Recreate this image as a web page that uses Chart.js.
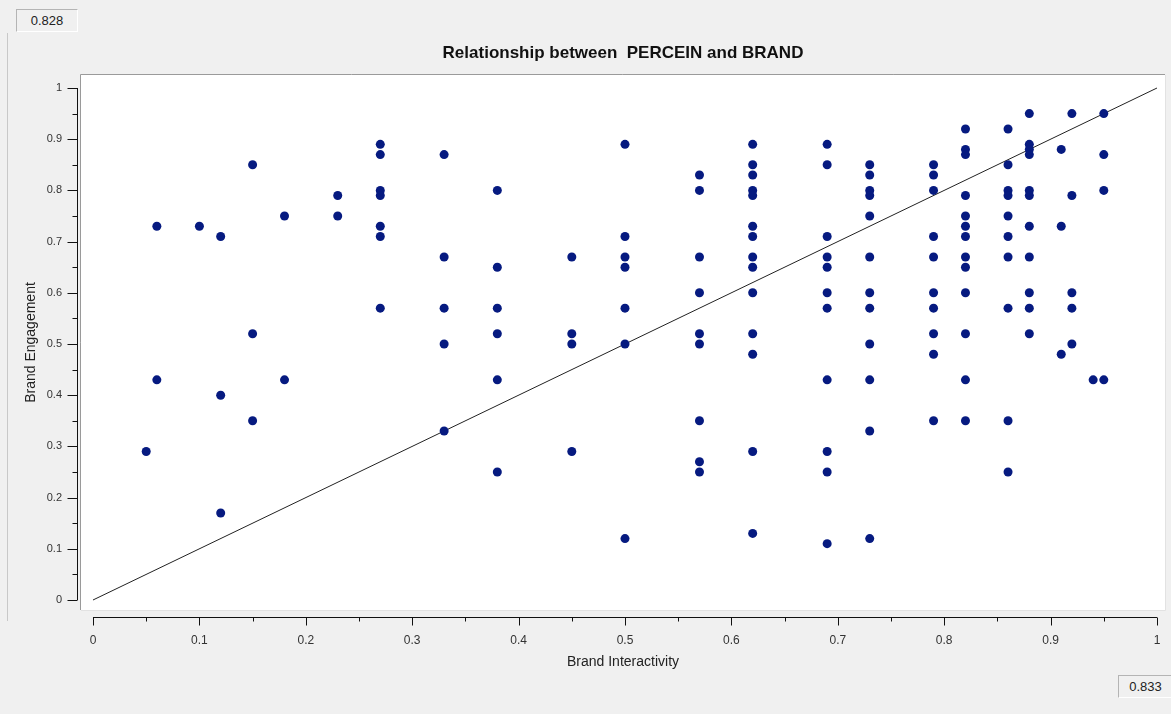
<!DOCTYPE html>
<html lang="en">
<head>
    <meta charset="UTF-8">
    <title>Relationship between PERCEIN and BRAND</title>
    <script src="https://cdn.jsdelivr.net/npm/chart.js"></script>
    <style>
        body { margin: 0; background: #f0f0f0; overflow: hidden; font-family: 'Liberation Sans', Arial, sans-serif; }
        .panel { position: relative; width: 1171px; height: 714px; }
        #scatterChart { position: absolute; left: 0; top: 0; display: block; }
        .side-line { position: absolute; left: 7px; top: 33px; width: 1px; height: 588px; background: #c8c8c8; }
        .val-box { position: absolute; background: #f0f0f0; border: 1px solid #b4b4b4; border-right-color: #fff; border-bottom-color: #fff;
                   font-size: 13px; color: #222; text-align: center; line-height: 21px; }
    </style>
</head>
<body>
<div class="panel">
    <canvas id="scatterChart" width="1171" height="714"></canvas>
    <div class="side-line"></div>
    <div class="val-box" style="left:16px; top:9px; width:60px; height:21px;">0.828</div>
    <div class="val-box" style="left:1118px; top:675px; width:53px; height:21px;">0.833</div>
</div>

<script>
    // x positions (Brand Interactivity) of each column of points
    const interactivityCols = [0.05, 0.06, 0.10, 0.12, 0.15, 0.18, 0.23, 0.27, 0.33, 0.38, 0.45, 0.50,
                               0.57, 0.62, 0.69, 0.73, 0.79, 0.82, 0.86, 0.88, 0.91, 0.92, 0.94, 0.95];
    // Brand Engagement values for each column above
    const engagementByCol = [
        [0.29],
        [0.73, 0.43],
        [0.73],
        [0.71, 0.40, 0.17],
        [0.85, 0.52, 0.35],
        [0.75, 0.43],
        [0.79, 0.75],
        [0.89, 0.87, 0.80, 0.79, 0.73, 0.71, 0.57],
        [0.87, 0.67, 0.57, 0.50, 0.33],
        [0.80, 0.65, 0.57, 0.52, 0.43, 0.25],
        [0.67, 0.52, 0.50, 0.29],
        [0.89, 0.71, 0.67, 0.65, 0.57, 0.50, 0.12],
        [0.83, 0.80, 0.67, 0.60, 0.52, 0.50, 0.35, 0.27, 0.25],
        [0.89, 0.85, 0.83, 0.80, 0.79, 0.73, 0.71, 0.67, 0.65, 0.60, 0.52, 0.48, 0.29, 0.13],
        [0.89, 0.85, 0.71, 0.67, 0.65, 0.60, 0.57, 0.43, 0.29, 0.25, 0.11],
        [0.85, 0.83, 0.80, 0.79, 0.75, 0.67, 0.60, 0.57, 0.50, 0.43, 0.33, 0.12],
        [0.85, 0.83, 0.80, 0.71, 0.67, 0.60, 0.57, 0.52, 0.48, 0.35],
        [0.92, 0.88, 0.87, 0.79, 0.75, 0.73, 0.71, 0.67, 0.65, 0.60, 0.52, 0.43, 0.35],
        [0.92, 0.85, 0.80, 0.79, 0.75, 0.71, 0.67, 0.57, 0.35, 0.25],
        [0.95, 0.89, 0.88, 0.87, 0.80, 0.79, 0.73, 0.67, 0.60, 0.57, 0.52],
        [0.88, 0.73, 0.48],
        [0.95, 0.79, 0.60, 0.57, 0.50],
        [0.43],
        [0.95, 0.87, 0.80, 0.43]
    ];
    // reference line y = x
    const refLineX = [0, 1];
    const refLineY = [0, 1];

    const tickValues = [0, 0.1, 0.2, 0.3, 0.4, 0.5, 0.6, 0.7, 0.8, 0.9, 1];
    const tickLabels = ['0', '0.1', '0.2', '0.3', '0.4', '0.5', '0.6', '0.7', '0.8', '0.9', '1'];

    const FONT = "'Liberation Sans', Arial, sans-serif";

    document.addEventListener('DOMContentLoaded', function() {
        const points = [];
        interactivityCols.forEach((x, i) => {
            engagementByCol[i].forEach(y => points.push({ x: x, y: y }));
        });
        const refLine = refLineX.map((x, i) => ({ x: x, y: refLineY[i] }));

        // white plot area + framed look
        const plotBackground = {
            id: 'plotBackground',
            beforeDatasetsDraw(chart) {
                const { ctx, chartArea: a } = chart;
                ctx.save();
                ctx.fillStyle = '#ffffff';
                ctx.fillRect(a.left, a.top, a.right - a.left, a.bottom - a.top);
                ctx.lineWidth = 1;
                ctx.strokeStyle = '#9a9a9a';
                ctx.beginPath();
                ctx.moveTo(a.left - 0.5, a.bottom);
                ctx.lineTo(a.left - 0.5, a.top - 0.5);
                ctx.lineTo(a.right, a.top - 0.5);
                ctx.stroke();
                ctx.strokeStyle = '#e2e2e2';
                ctx.beginPath();
                ctx.moveTo(a.right + 0.5, a.top);
                ctx.lineTo(a.right + 0.5, a.bottom + 0.5);
                ctx.lineTo(a.left, a.bottom + 0.5);
                ctx.stroke();
                ctx.restore();
            }
        };

        // detached axis lines with major / minor tick marks
        const detachedAxes = {
            id: 'detachedAxes',
            afterDraw(chart) {
                const { ctx, chartArea: a, scales } = chart;
                const xs = scales.x, ys = scales.y;
                const minor = tickValues.slice(1).map((v, i) => (v + tickValues[i]) / 2);
                const axisY = Math.round(a.bottom + 7) + 0.5;
                const axisX = Math.round(a.left - 4) + 0.5;
                ctx.save();
                ctx.strokeStyle = '#111';
                ctx.lineWidth = 1;
                ctx.beginPath();
                ctx.moveTo(xs.getPixelForValue(0), axisY);
                ctx.lineTo(xs.getPixelForValue(1), axisY);
                tickValues.forEach(v => {
                    const px = Math.round(xs.getPixelForValue(v)) + 0.5;
                    ctx.moveTo(px, axisY); ctx.lineTo(px, axisY + 8);
                });
                minor.forEach(v => {
                    const px = Math.round(xs.getPixelForValue(v)) + 0.5;
                    ctx.moveTo(px, axisY); ctx.lineTo(px, axisY + 4);
                });
                ctx.moveTo(axisX, ys.getPixelForValue(0));
                ctx.lineTo(axisX, ys.getPixelForValue(1));
                tickValues.forEach(v => {
                    const py = Math.round(ys.getPixelForValue(v)) + 0.5;
                    ctx.moveTo(axisX, py); ctx.lineTo(axisX - 10, py);
                });
                minor.forEach(v => {
                    const py = Math.round(ys.getPixelForValue(v)) + 0.5;
                    ctx.moveTo(axisX, py); ctx.lineTo(axisX - 5, py);
                });
                ctx.stroke();
                ctx.restore();
            }
        };

        const fixedTicks = scale => { scale.ticks = tickValues.map(v => ({ value: v })); };

        new Chart(document.getElementById('scatterChart'), {
            type: 'scatter',
            data: {
                datasets: [
                    {
                        data: points,
                        backgroundColor: '#061a80',
                        borderColor: '#061a80',
                        pointRadius: 4.5,
                        pointHoverRadius: 4.5,
                        borderWidth: 0
                    },
                    {
                        type: 'line',
                        data: refLine,
                        showLine: true,
                        borderColor: '#222',
                        borderWidth: 1,
                        pointRadius: 0,
                        fill: false
                    }
                ]
            },
            options: {
                responsive: false,
                animation: false,
                layout: { padding: { left: 11, right: 6, top: 0, bottom: 0 } },
                scales: {
                    x: {
                        type: 'linear',
                        min: -0.011278,
                        max: 1.007519,
                        afterBuildTicks: fixedTicks,
                        afterFit: scale => {
                            scale.height = 104;
                            scale.paddingLeft = 0;
                            scale.paddingRight = 0;
                        },
                        grid: { display: false, drawTicks: false },
                        border: { display: false },
                        ticks: {
                            padding: 23,
                            color: '#333',
                            font: { family: FONT, size: 12 },
                            maxRotation: 0,
                            autoSkip: false,
                            callback: (v, i) => tickLabels[i]
                        },
                        title: {
                            display: true,
                            text: 'Brand Interactivity',
                            color: '#222',
                            font: { family: FONT, size: 14 },
                            padding: { top: 0, bottom: 43.6 }
                        }
                    },
                    y: {
                        type: 'linear',
                        min: -0.019531,
                        max: 1.025391,
                        afterBuildTicks: fixedTicks,
                        afterFit: scale => { scale.width = 70; },
                        grid: { display: false, drawTicks: false },
                        border: { display: false },
                        ticks: {
                            padding: 19,
                            color: '#333',
                            font: { family: FONT, size: 11 },
                            autoSkip: false,
                            callback: (v, i) => tickLabels[i]
                        },
                        title: {
                            display: true,
                            text: 'Brand Engagement',
                            color: '#222',
                            font: { family: FONT, size: 14 },
                            padding: { top: 12, bottom: 0 }
                        }
                    }
                },
                plugins: {
                    legend: { display: false },
                    tooltip: { enabled: false },
                    title: {
                        display: true,
                        fullSize: false,
                        text: 'Relationship between  PERCEIN and BRAND',
                        color: '#111',
                        font: { family: FONT, size: 17, weight: 'bold' },
                        padding: { top: 42.8, bottom: 11.8 }
                    }
                }
            },
            plugins: [plotBackground, detachedAxes]
        });
    });
</script>
</body>
</html>
